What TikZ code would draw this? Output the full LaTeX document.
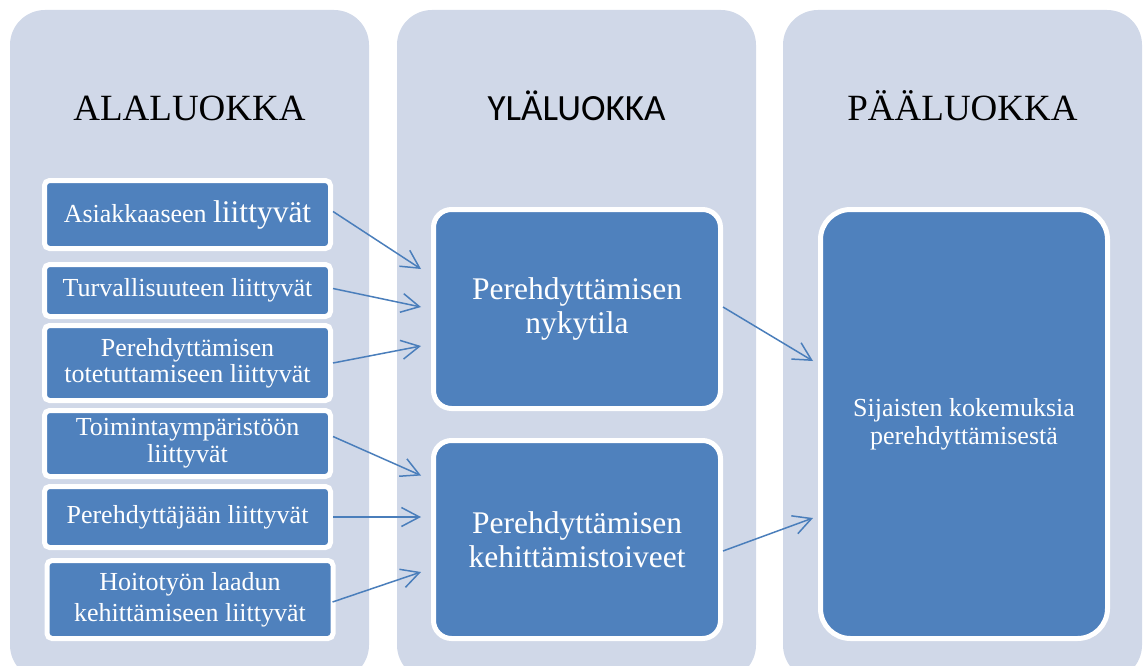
\documentclass[tikz,border=0pt]{standalone}
\usepackage{fontspec}
\setmainfont{Liberation Serif}
\newfontfamily\ylafont{Carlito}
\usepackage{xcolor}
\usepackage{tikz}
\usetikzlibrary{positioning, arrows.meta}

\definecolor{colbg}{RGB}{208,216,232}
\definecolor{boxblue}{RGB}{79,129,189}
\definecolor{arrowblue}{RGB}{74,126,187}

\begin{document}
\begin{tikzpicture}[x=1pt, y=-1pt, >={Straight Barb[length=18pt, width=19pt]},
    column/.style={fill=colbg, rounded corners=35pt},
    title/.style={anchor=base, inner sep=0pt, font=\fontsize{37}{37}\selectfont},
    subbox/.style={draw=white, fill=boxblue, line width=5pt, rounded corners=5pt, text=white, align=center, minimum width=286pt, inner sep=0pt, font=\fontsize{26}{26}\selectfont},
    midbox/.style={subbox, rounded corners=18pt, minimum width=287pt, font=\fontsize{31.5}{34}\selectfont},
    mainbox/.style={subbox, rounded corners=30pt, minimum width=287pt, font=\fontsize{26}{28}\selectfont},
    link/.style={->, draw=arrowblue, line width=1.5pt}]

    \useasboundingbox (0,0) rectangle (1143,666);

    % Columns
    \fill[column] (10,10) rectangle (369,680);
    \fill[column] (397,10) rectangle (756,680);
    \fill[column] (783,10) rectangle (1142,680);

    % Column titles
    \node[title] (t1) at (189.5,121) {ALALUOKKA};
    \node[title, font=\ylafont\fontsize{37}{37}\selectfont] (t2) at (576.5,121) {YLÄLUOKKA};
    \node[title] (t3) at (962.5,121) {PÄÄLUOKKA};

    % Subcategory nodes
    \node[subbox, minimum height=68pt] (b1) at (187.5,214.5) {Asiakkaaseen {\fontsize{31.5}{31.5}\selectfont liittyvät}};
    \node[subbox, minimum height=52pt, below=11pt of b1] (b2) {Turvallisuuteen liittyvät};
    \node[subbox, minimum height=75pt, below=4pt of b2] (b3) {Perehdyttämisen\\totetuttamiseen liittyvät};
    \node[subbox, minimum height=66pt, below=5pt of b3] (b4) {Toimintaympäristöön\\[1pt]liittyvät};
    \node[subbox, minimum height=61pt, below=5pt of b4] (b5) {Perehdyttäjään liittyvät};
    \node[subbox, minimum height=78pt, below=8pt of b5, xshift=2.5pt] (b6) {Hoitotyön laadun\\[5pt]kehittämiseen liittyvät};

    % Upper category nodes
    \node[midbox, minimum height=199pt] (m1) at (577,309) {Perehdyttämisen\\nykytila};
    \node[midbox, minimum height=198pt, below=27pt of m1] (m2) {Perehdyttämisen\\kehittämistoiveet};

    % Main category node
    \node[mainbox, minimum height=429pt] (r) at (964,424) {Sijaisten kokemuksia\\perehdyttämisestä};

    % Connections: subcategories to upper categories
    \draw[link] ([yshift=3pt]b1.east) -- ([xshift=-10pt, yshift=40pt]m1.west);
    \draw[link] ([yshift=2pt]b2.east) -- ([xshift=-10pt, yshift=2pt]m1.west);
    \draw[link] (b3.east) -- ([xshift=-10pt, yshift=-37pt]m1.west);
    \draw[link] ([yshift=7pt]b4.east) -- ([xshift=-10pt, yshift=64pt]m2.west);
    \draw[link] (b5.east) -- ([xshift=-10pt, yshift=22.5pt]m2.west);
    \draw[link] ([xshift=-3pt, yshift=-2.5pt]b6.east) -- ([xshift=-10pt, yshift=-32.5pt]m2.west);

    % Connections: upper categories to main category
    \draw[link] ([yshift=2pt]m1.east) -- ([xshift=-5pt, yshift=63pt]r.west);
    \draw[link] ([yshift=-11.5pt]m2.east) -- ([xshift=-5pt, yshift=-94pt]r.west);

\end{tikzpicture}
\end{document}
